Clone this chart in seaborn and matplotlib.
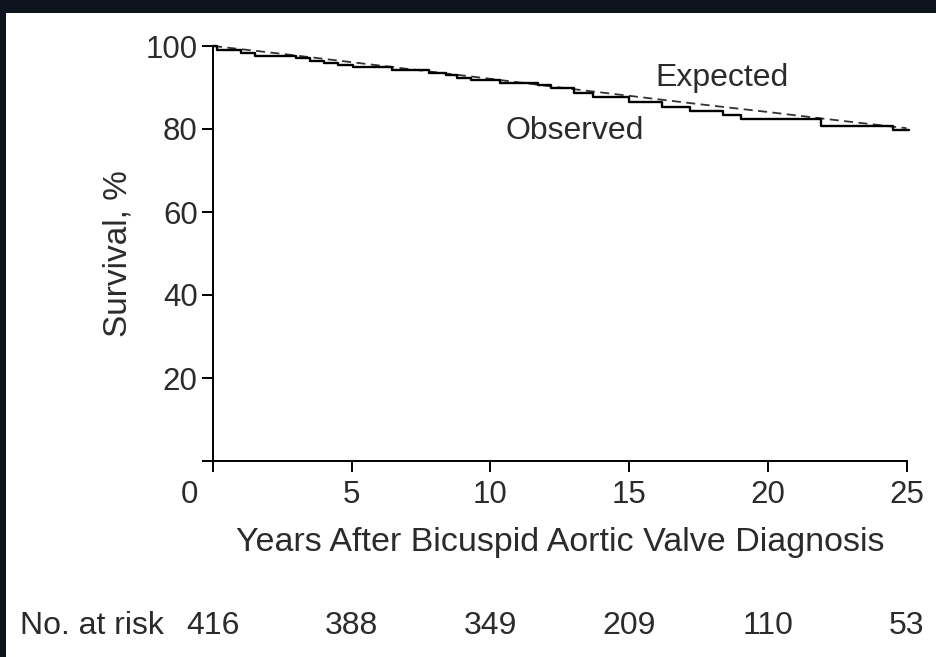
import matplotlib
matplotlib.use("Agg")
import matplotlib.pyplot as plt
import matplotlib.transforms as mtransforms
from matplotlib.patches import Rectangle
import seaborn as sns

# Kaplan-Meier observed survival (step points)
obs_years = [0, 0.15, 1.0, 1.5, 3.0, 3.5, 4.0, 4.5, 5.05, 6.45, 7.8, 8.4, 8.8, 9.3,
             10.35, 11.7, 12.2, 13.0, 13.7, 15.0, 16.2, 17.2, 18.4, 19.05, 21.9, 24.5, 25.1]
obs_surv = [100, 99.0, 98.4, 97.6, 97.1, 96.5, 95.9, 95.4, 95.0, 94.3, 93.6, 93.0, 92.4, 91.8,
            91.1, 90.5, 89.9, 88.7, 87.6, 86.4, 85.2, 84.3, 83.3, 82.3, 80.8, 79.8, 79.8]

# Expected survival (dashed)
exp_years = [0, 2.5, 5, 7.5, 10, 12.5, 15, 17.5, 20, 22.5, 25]
exp_surv = [100, 98.1, 96.1, 94.1, 92.1, 90.0, 88.0, 86.0, 84.1, 82.1, 80.2]

risk_years = [0, 5, 10, 15, 20, 25]
at_risk = [416, 388, 349, 209, 110, 53]

xticks = [0, 5, 10, 15, 20, 25]
yticks = [0, 20, 40, 60, 80, 100]
ytick_labels = ["", "20", "40", "60", "80", "100"]

sns.set_style("ticks")
plt.rcParams["font.family"] = ["Liberation Sans", "DejaVu Sans"]
txt = "#2b2b2b"

fig = plt.figure(figsize=(9.36, 6.57), dpi=100)
fig.patch.set_facecolor("#0d141d")
fig.patches.append(Rectangle((6 / 936, 0), 1, 1 - 13 / 657, transform=fig.transFigure,
                             facecolor="white", edgecolor="none", zorder=-10))

ax = fig.add_axes([213 / 936, 1 - 461 / 657, 693.5 / 936, 415 / 657])
ax.set_facecolor("white")

sns.lineplot(x=exp_years, y=exp_surv, ax=ax, color="#333333", linewidth=1.3,
             linestyle=(0, (5, 3)), clip_on=False)
sns.lineplot(x=obs_years, y=obs_surv, ax=ax, color="black", linewidth=1.7,
             drawstyle="steps-post", clip_on=False)

ax.set_xlim(0, 25)
ax.set_ylim(0, 100)
ax.set_xticks(xticks)
ax.set_xticklabels([str(t) for t in xticks])
ax.set_yticks(yticks)
ax.set_yticklabels(ytick_labels)

sns.despine(ax=ax)
for s in ["left", "bottom"]:
    ax.spines[s].set_linewidth(1.4)
    ax.spines[s].set_color("black")
ax.tick_params(axis="both", direction="out", length=8, width=1.4, color="black",
               labelsize=22.5, labelcolor=txt)
ax.tick_params(axis="x", pad=6)
ax.tick_params(axis="y", pad=3)

# the "0" label sits left of the origin tick
lbl0 = ax.get_xticklabels()[0]
lbl0.set_transform(lbl0.get_transform() + mtransforms.ScaledTranslation(-24 / 100, 0, fig.dpi_scale_trans))

ax.set_ylabel("Survival, %", fontsize=24, color=txt, labelpad=9)
ax.set_xlabel("Years After Bicuspid Aortic Valve Diagnosis", fontsize=24.5, color=txt, labelpad=12)

ax.text(18.35, 92.3, "Expected", fontsize=23, color=txt, ha="center", va="center")
ax.text(13.05, 79.4, "Observed", fontsize=23, color=txt, ha="center", va="center")

# number at risk row
row_y = 1 - 626 / 657
fig.text(20 / 936, row_y, "No. at risk", fontsize=23, color=txt, ha="left", va="center")
for t, n in zip(risk_years, at_risk):
    ax.text(t, row_y, str(n), transform=mtransforms.blended_transform_factory(ax.transData, fig.transFigure),
            fontsize=23, color=txt, ha="center", va="center")

fig.savefig("out.png", dpi=100, facecolor=fig.get_facecolor())
